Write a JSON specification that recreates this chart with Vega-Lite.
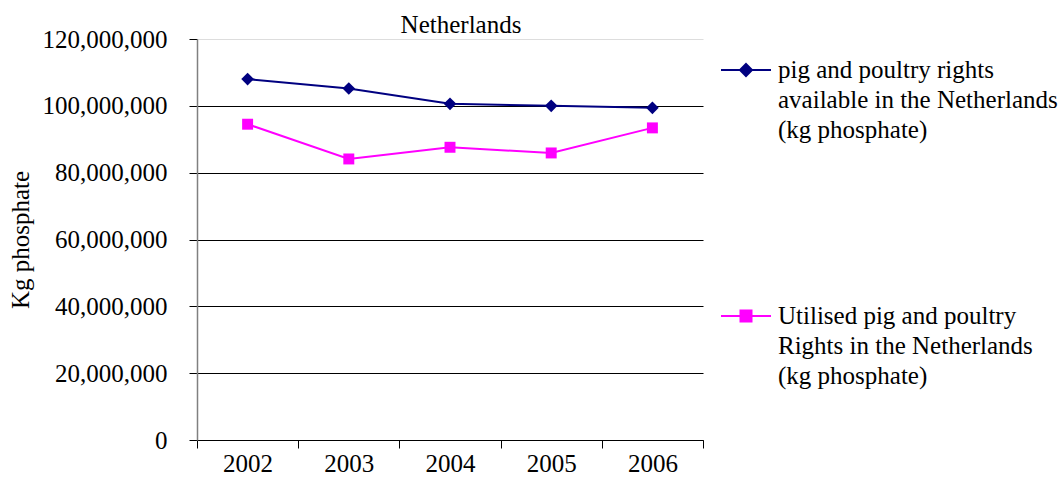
{
  "$schema": "https://vega.github.io/schema/vega-lite/v6.json",
  "autosize": "none",
  "width": 506,
  "height": 401,
  "padding": {"left": 197, "top": 39, "right": 360, "bottom": 45},
  "background": "white",
  "title": {"text": "Netherlands", "font": "Liberation Serif", "fontSize": 25, "fontWeight": "normal", "color": "black", "anchor": "middle", "dx": 11, "offset": -11},
  "config": {
    "view": {"stroke": null},
    "font": "Liberation Serif"
  },
  "data": {
    "values": [
      {"year": "2002", "series": "pig and poultry rights available in the Netherlands (kg phosphate)", "value": 108000000},
      {"year": "2003", "series": "pig and poultry rights available in the Netherlands (kg phosphate)", "value": 105200000},
      {"year": "2004", "series": "pig and poultry rights available in the Netherlands (kg phosphate)", "value": 100600000},
      {"year": "2005", "series": "pig and poultry rights available in the Netherlands (kg phosphate)", "value": 100000000},
      {"year": "2006", "series": "pig and poultry rights available in the Netherlands (kg phosphate)", "value": 99400000},
      {"year": "2002", "series": "Utilised pig and poultry Rights in the Netherlands (kg phosphate)", "value": 94500000},
      {"year": "2003", "series": "Utilised pig and poultry Rights in the Netherlands (kg phosphate)", "value": 84100000},
      {"year": "2004", "series": "Utilised pig and poultry Rights in the Netherlands (kg phosphate)", "value": 87600000},
      {"year": "2005", "series": "Utilised pig and poultry Rights in the Netherlands (kg phosphate)", "value": 85900000},
      {"year": "2006", "series": "Utilised pig and poultry Rights in the Netherlands (kg phosphate)", "value": 93400000}
    ]
  },
  "encoding": {
    "x": {
      "field": "year", "type": "ordinal",
      "scale": {"type": "band", "paddingInner": 0, "paddingOuter": 0},
      "axis": {
        "title": null, "labelAngle": 0, "labelFont": "Liberation Serif", "labelFontSize": 25, "labelColor": "black",
        "domainColor": "black", "domainWidth": 1, "tickColor": "black", "tickSize": 8, "tickBand": "extent",
        "labelPadding": 3, "grid": false
      }
    },
    "y": {
      "field": "value", "type": "quantitative",
      "scale": {"domain": [0, 120000000], "nice": false},
      "axis": {
        "title": "Kg phosphate", "titleFont": "Liberation Serif", "titleFontSize": 25, "titleFontWeight": "normal", "titleColor": "black", "titlePadding": 9,
        "values": [0, 20000000, 40000000, 60000000, 80000000, 100000000, 120000000],
        "format": ",d", "labelFont": "Liberation Serif", "labelFontSize": 25, "labelColor": "black",
        "domainColor": "#808080", "domainWidth": 1.5, "tickColor": "black", "tickSize": 8, "labelPadding": 22,
        "grid": true, "gridColor": {"condition": {"test": "datum.value == 120000000", "value": "#dddddd"}, "value": "black"}, "gridWidth": 1, "gridOpacity": 1
      }
    },
    "color": {"field": "series", "type": "nominal",
      "scale": {"domain": ["pig and poultry rights available in the Netherlands (kg phosphate)", "Utilised pig and poultry Rights in the Netherlands (kg phosphate)"], "range": ["#000080", "#FF00FF"]},
      "legend": {
        "title": null, "orient": "none", "legendX": 523, "legendY": 5, "rowPadding": 147,
        "labelFont": "Liberation Serif", "labelFontSize": 25, "labelColor": "black", "labelLimit": 400, "labelOffset": 6,
        "symbolSize": 2500, "symbolStrokeWidth": 2, "symbolType": "circle",
        "labelExpr": "indexof(datum.value, 'Utilised') == 0 ? ['Utilised pig and poultry', 'Rights in the Netherlands', '(kg phosphate)'] : ['pig and poultry rights', 'available in the Netherlands', '(kg phosphate)']",
        "encode": {
          "symbols": {"update": {
            "shape": {"signal": "indexof(datum.value, 'Utilised') == 0 ? 'M-1,0H1M-0.22,-0.22H0.22V0.22H-0.22Z' : 'M-1,0H1M0,-0.24L0.24,0L0,0.24L-0.24,0Z'"},
            "size": {"value": 2500},
            "strokeWidth": {"value": 2},
            "fill": {"scale": "color", "field": "value"},
            "stroke": {"scale": "color", "field": "value"},
            "opacity": {"value": 1}, "fillOpacity": {"value": 1}, "strokeOpacity": {"value": 1}
          }},
          "labels": {"update": {"lineHeight": {"value": 30}}}
        }
      }
    }
  },
  "layer": [
    {
      "mark": {"type": "line", "strokeWidth": 2}
    },
    {
      "transform": [{"filter": "indexof(datum.series, 'Utilised') != 0"}],
      "mark": {"type": "point", "filled": true, "opacity": 1, "shape": "diamond", "size": 160}
    },
    {
      "transform": [{"filter": "indexof(datum.series, 'Utilised') == 0"}],
      "mark": {"type": "point", "filled": true, "opacity": 1, "shape": "square", "size": 120}
    }
  ]
}
